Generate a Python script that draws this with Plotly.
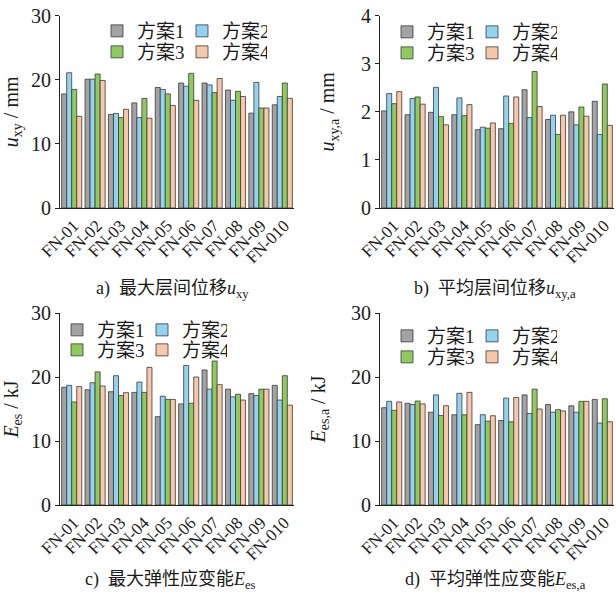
import plotly.graph_objects as go

categories = ["FN-01", "FN-02", "FN-03", "FN-04", "FN-05", "FN-06", "FN-07", "FN-08", "FN-09", "FN-010"]
series_names = ["方案1", "方案2", "方案3", "方案4"]

# a) max inter-storey displacement u_xy (mm)
uxy_1 = [17.8, 20.1, 14.6, 16.4, 18.8, 19.5, 19.5, 18.4, 14.8, 16.1]
uxy_2 = [21.1, 20.1, 14.75, 14.1, 18.5, 19.0, 19.2, 16.8, 19.6, 17.4]
uxy_3 = [18.5, 20.9, 14.1, 17.1, 17.8, 21.0, 18.0, 18.2, 15.6, 19.5]
uxy_4 = [14.3, 19.9, 15.4, 14.0, 16.0, 16.8, 20.2, 17.4, 15.6, 17.1]

# b) average inter-storey displacement u_xy,a (mm)
uxya_1 = [2.02, 1.94, 1.99, 1.94, 1.63, 1.65, 2.46, 1.84, 2.00, 2.22]
uxya_2 = [2.38, 2.28, 2.51, 2.29, 1.68, 2.33, 1.88, 1.93, 1.73, 1.53]
uxya_3 = [2.17, 2.31, 1.90, 1.92, 1.66, 1.76, 2.84, 1.53, 2.10, 2.58]
uxya_4 = [2.42, 2.16, 1.73, 2.15, 1.77, 2.31, 2.11, 1.93, 1.91, 1.72]

# c) max elastic strain energy E_es (kJ)
ees_1 = [18.4, 18.0, 17.7, 17.6, 13.8, 15.8, 21.1, 18.1, 17.4, 18.7]
ees_2 = [18.7, 19.1, 20.2, 19.2, 17.0, 21.8, 18.1, 16.9, 17.1, 16.4]
ees_3 = [16.1, 20.8, 17.1, 17.6, 16.5, 15.9, 22.5, 17.3, 18.1, 20.2]
ees_4 = [18.5, 18.6, 17.55, 21.5, 16.5, 20.0, 18.8, 16.4, 18.1, 15.6]

# d) average elastic strain energy E_es,a (kJ)
eesa_1 = [15.2, 15.9, 14.5, 14.1, 12.55, 13.2, 17.2, 15.7, 15.5, 16.5]
eesa_2 = [16.2, 15.7, 17.2, 17.45, 14.1, 16.7, 14.3, 14.5, 14.5, 12.8]
eesa_3 = [14.8, 16.25, 14.0, 14.1, 13.1, 13.0, 18.1, 14.9, 16.2, 16.6]
eesa_4 = [16.1, 15.8, 15.5, 17.6, 13.95, 16.8, 15.0, 14.7, 16.2, 13.0]

colors = ["#a3a3a3", "#93d3f2", "#8fcb5c", "#f8c6a8"]

W, H = 616, 597
panels = [
    dict(data=[uxy_1, uxy_2, uxy_3, uxy_4], rng=[0, 30], dtick=10,
         title="<i>u</i><sub>xy</sub> / mm",
         caption="a)  最大层间位移<i>u</i><sub>xy</sub>",
         x0=60, x1=294, ytop=15.7, ybot=208, leg_x=118, leg_y=[31, 52], cap=(172, 289)),
    dict(data=[uxya_1, uxya_2, uxya_3, uxya_4], rng=[0, 4], dtick=1,
         title="<i>u</i><sub>xy,a</sub> / mm",
         caption="b)  平均层间位移<i>u</i><sub>xy,a</sub>",
         x0=380, x1=614, ytop=15.7, ybot=208, leg_x=408, leg_y=[32, 53], cap=(495, 289)),
    dict(data=[ees_1, ees_2, ees_3, ees_4], rng=[0, 30], dtick=10,
         title="<i>E</i><sub>es</sub> / kJ",
         caption="c)  最大弹性应变能<i>E</i><sub>es</sub>",
         x0=60, x1=294, ytop=313, ybot=505, leg_x=78, leg_y=[330, 350], cap=(170, 580)),
    dict(data=[eesa_1, eesa_2, eesa_3, eesa_4], rng=[0, 30], dtick=10,
         title="<i>E</i><sub>es,a</sub> / kJ",
         caption="d)  平均弹性应变能<i>E</i><sub>es,a</sub>",
         x0=380, x1=614, ytop=313, ybot=505, leg_x=408, leg_y=[336, 357], cap=(495, 580)),
]

LEG_SYMBOL_OFFSET = 21  # px from legend x position to first symbol centre (compensated)

serif = "Liberation Serif, Times New Roman, Noto Sans CJK SC, serif"
txt = "#1a1a1a"

fig = go.Figure()
layout = dict(
    width=W, height=H, margin=dict(l=0, r=0, t=0, b=0, autoexpand=False),
    paper_bgcolor="white", plot_bgcolor="white",
    barmode="group", bargap=0.14, bargroupgap=0.0,
    font=dict(family=serif, size=18, color=txt),
    annotations=[],
)

for i, p in enumerate(panels):
    n = i + 1
    xa = "x" if n == 1 else f"x{n}"
    ya = "y" if n == 1 else f"y{n}"
    for j, (vals, name) in enumerate(zip(p["data"], series_names)):
        leg_idx = 2 * i + (0 if j < 2 else 1) + 1
        leg = "legend" if leg_idx == 1 else f"legend{leg_idx}"
        fig.add_trace(go.Bar(
            x=categories, y=vals, name=name, xaxis=xa, yaxis=ya,
            marker=dict(color=colors[j], line=dict(color="#3a3a3a", width=0.8)),
            legend=leg, showlegend=True,
        ))
    xkey = "xaxis" if n == 1 else f"xaxis{n}"
    ykey = "yaxis" if n == 1 else f"yaxis{n}"
    layout[xkey] = dict(
        domain=[p["x0"] / W, p["x1"] / W], anchor=ya, automargin=False,
        showline=True, linecolor="#222", linewidth=1, ticks="",
        tickangle=-45, tickfont=dict(size=17, family=serif), ticklabelshift=2,
        showgrid=False, zeroline=False, fixedrange=True,
    )
    layout[ykey] = dict(
        domain=[(H - p["ybot"]) / H, (H - p["ytop"]) / H], anchor=xa, automargin=False,
        range=p["rng"], dtick=p["dtick"], showline=True, linecolor="#222", linewidth=1,
        ticks="outside", ticklen=4, tickcolor="#222",
        tickfont=dict(size=20, family=serif), showgrid=False, zeroline=False,
        title=dict(text=p["title"], font=dict(size=20, family=serif), standoff=20),
    )
    for r in range(2):
        leg_idx = 2 * i + r + 1
        lkey = "legend" if leg_idx == 1 else f"legend{leg_idx}"
        layout[lkey] = dict(
            x=(p["leg_x"] - LEG_SYMBOL_OFFSET) / W, y=(H - p["leg_y"][r]) / H,
            xanchor="left", yanchor="middle",
            orientation="h", bgcolor="rgba(0,0,0,0)", borderwidth=0,
            font=dict(size=19, family=serif, color=txt), entrywidth=40,
            itemwidth=30, tracegroupgap=0,
        )
    layout["annotations"].append(dict(
        x=p["cap"][0] / W, y=(H - p["cap"][1]) / H, xref="paper", yref="paper",
        text=p["caption"], showarrow=False, xanchor="center", yanchor="middle",
        font=dict(size=18, family=serif, color=txt),
    ))

fig.update_layout(**layout)
fig.write_html(
    "out.html",
    config={"displayModeBar": False},
    post_script="document.body.style.margin='0';document.body.style.overflow='hidden';",
)
